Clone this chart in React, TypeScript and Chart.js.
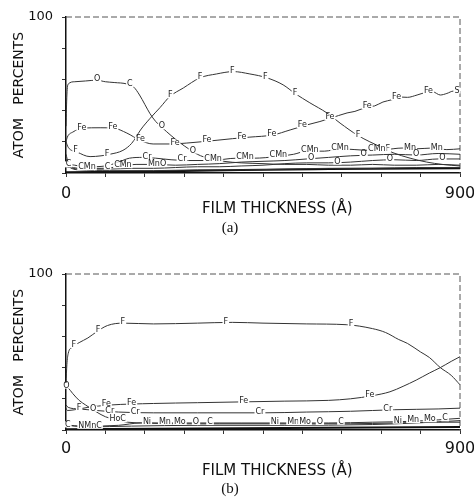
import React, { useEffect, useRef } from 'react';
import { Chart, registerables } from 'chart.js';
Chart.register(...registerables);

type Pt = [number, number];
type Lbl = [number, string];

const FONT = "'DejaVu Sans', sans-serif";
const X_TICK_LABELS = ['0', '900'];
const Y_TICK_LABELS = ['100'];
const X_TITLE = 'FILM THICKNESS (Å)';
const Y_TITLE = 'ATOM   PERCENTS';
const CAPTIONS = ['(a)', '(b)'];

// ---------- panel (a) ----------
const A_O: Pt[] = [[0,30],[2,50],[5,57],[20,58.5],[45,59],[70,59.5],[90,58.5],[110,58],[140,57],[155,55],[168,50],[180,44],[192,38],[205,33],[220,29],[240,24],[260,19.5],[280,15.5],[300,12],[330,9],[360,7.5],[400,6.5],[450,6],[500,5.5],[550,5.5],[600,5],[650,5],[700,5.5],[750,5],[800,5],[850,5.5],[900,5]];
const A_O_LBL: Lbl[] = [[71,'O'],[146,'C'],[219,'O'],[290,'O']];
const A_F: Pt[] = [[0,20],[5,16.5],[25,13.5],[55,10.5],[80,11],[100,12],[130,14.5],[150,19],[160,23],[170,27.5],[192,35],[215,42],[237,49],[268,54.5],[306,61],[344,63.5],[382,65],[420,63.5],[459,61],[496,56.5],[523,51],[557,45],[596,38.5],[626,32],[667,24],[694,20],[724,16],[747,13],[786,9.5],[824,7],[860,5.5],[900,4.5]];
const A_F_LBL: Lbl[] = [[22,'F'],[94,'F'],[238,'F'],[306,'F'],[380,'F'],[455,'F'],[523,'F'],[667,'F'],[735,'F']];
const A_FE: Pt[] = [[0,20],[3,23],[16,26.3],[39,28.8],[78,29],[108,28.8],[139,25.6],[169,21],[199,18.6],[237,18.6],[276,19.2],[345,21],[380,22],[420,23],[473,24.4],[512,27.6],[550,30.8],[580,33],[603,35],[642,38.5],[660,39.5],[688,42.3],[705,43],[724,45.5],[745,47],[763,48.7],[780,48.5],[802,50],[820,51.5],[838,52],[855,50],[870,51],[885,52.5],[900,52]];
const A_FE_LBL: Lbl[] = [[36,'Fe'],[107,'Fe'],[170,'Fe'],[249,'Fe'],[322,'Fe'],[402,'Fe'],[470,'Fe'],[540,'Fe'],[603,'Fe'],[688,'Fe'],[755,'Fe'],[828,'Fe'],[893,'S']];
const A_CR: Pt[] = [[0,12],[5,7],[20,5],[50,4],[90,4.5],[120,7],[145,9.5],[175,10],[205,9.5],[240,8.5],[280,8],[330,8],[390,9.5],[430,9.5],[480,10.5],[520,12],[550,14],[590,14],[627,15.5],[660,15],[694,14.5],[730,15],[768,16],[800,15.5],[836,16],[870,15],[900,15.5]];
const A_CR_LBL: Lbl[] = [[185,'Cr'],[265,'Cr'],[336,'CMn'],[409,'CMn'],[485,'CMn'],[557,'CMn'],[626,'CMn'],[710,'CMn'],[786,'Mn'],[847,'Mn']];
const A_MN: Pt[] = [[0,6],[10,4],[40,3],[80,3],[120,4],[160,5.5],[200,5.5],[250,5],[300,5.5],[350,6],[400,7],[450,7.5],[500,8],[550,9],[600,10],[650,11],[700,11.5],[750,12],[800,11.5],[850,12.5],[900,12]];
const A_MN_LBL: Lbl[] = [[48,'CMn'],[95,'C'],[130,'CMn'],[208,'MnO'],[560,'O'],[680,'O'],[800,'O']];
const A_NI: Pt[] = [[0,4],[30,2.5],[100,2.5],[150,3],[200,3],[250,3.5],[300,4],[350,4],[400,4.5],[450,5],[500,6],[550,6.5],[600,6.5],[650,7],[700,8],[750,8.5],[800,8],[850,9],[900,9]];
const A_NI_LBL: Lbl[] = [[620,'O'],[740,'O'],[860,'O']];
const A_C: Pt[] = [[0,9],[5,5],[30,2],[100,1.5],[200,1.5],[300,2],[400,2],[500,2.5],[600,3],[700,3],[800,3.5],[900,3.5]];
const A_C_LBL: Lbl[] = [[6,'C']];
const A_BASE: Pt[] = [[0,0.5],[200,1],[400,2],[600,2.5],[900,3]];

// ---------- panel (b) ----------
const B_F: Pt[] = [[0,30],[2,42],[5,49],[14,53],[30,56],[50,59],[70,63],[95,67],[130,68.5],[200,68],[300,68.5],[380,69],[450,68.5],[550,68],[640,67.5],[700,65],[730,62.5],[760,58],[780,55.5],[810,50],[830,46.5],[855,40],[880,35],[900,29]];
const B_F_LBL: Lbl[] = [[18,'F'],[73,'F'],[130,'F'],[365,'F'],[651,'F']];
const B_FE: Pt[] = [[0,14],[3,12.5],[20,13],[50,14.5],[100,16],[200,17],[300,17.5],[400,18],[500,18.5],[600,19],[650,20],[700,22],[740,24.5],[770,28],[800,32],[830,36.5],[855,40],[880,44],[900,47]];
const B_FE_LBL: Lbl[] = [[30,'F'],[92,'Fe'],[150,'Fe'],[406,'Fe'],[694,'Fe']];
const B_CR: Pt[] = [[0,16],[5,14.5],[30,13.5],[70,12.5],[120,11.5],[200,11],[300,11],[450,11],[550,11.5],[650,12],[750,13],[850,13.5],[900,14]];
const B_CR_LBL: Lbl[] = [[100,'Cr'],[158,'Cr'],[443,'Cr'],[735,'Cr']];
const B_O: Pt[] = [[0,28],[5,27],[15,23.5],[30,19],[45,16],[70,11.5],[90,8.5],[115,6.5],[140,5],[180,4.5],[250,4],[350,4],[450,4],[550,4],[650,4],[750,4.5],[850,5],[900,5]];
const B_O_LBL: Lbl[] = [[1,'O'],[62,'O'],[118,'HoC']];
const B_NI: Pt[] = [[0,6],[10,3],[50,2.5],[120,3],[170,4.5],[250,4.5],[400,4.5],[500,4.5],[600,4.5],[700,5],[780,5.5],[850,6.5],[900,7.5]];
const B_NI_LBL: Lbl[] = [[185,'Ni'],[226,'Mn'],[260,'Mo'],[297,'O'],[329,'C'],[477,'Ni'],[519,'Mn'],[546,'Mo'],[580,'O'],[628,'C'],[758,'Ni'],[793,'Mn'],[831,'Mo'],[866,'C']];
const B_C: Pt[] = [[0,3],[50,2],[150,2.5],[300,3],[500,3],[700,3.5],[800,4.5],[900,6]];
const B_C_LBL: Lbl[] = [[4,'C'],[55,'NMnC']];
const B_BASE: Pt[] = [[0,0.5],[300,1],[600,1.5],[900,2]];

function interp(pts: Pt[], x: number): number {
  for (let i = 1; i < pts.length; i++) {
    if (x <= pts[i][0]) {
      const [x0, y0] = pts[i - 1];
      const [x1, y1] = pts[i];
      return y0 + ((y1 - y0) * (x - x0)) / (x1 - x0);
    }
  }
  return pts[pts.length - 1][1];
}

const series = (pts: Pt[], labels: Lbl[], width = 1, color = '#333') => ({
  data: pts.map(([x, y]) => ({ x, y })),
  src: pts,
  curveLabels: labels,
  borderColor: color,
  borderWidth: width,
  pointRadius: 0,
  fill: false,
  cubicInterpolationMode: 'monotone',
});

const framePlugin = {
  id: 'frame',
  beforeDatasetsDraw(chart: any) {
    const { ctx, chartArea: a } = chart;
    ctx.save();
    ctx.strokeStyle = '#555';
    ctx.lineWidth = 1;
    ctx.setLineDash([6, 3]);
    ctx.beginPath();
    ctx.moveTo(a.left, a.top);
    ctx.lineTo(a.right, a.top);
    ctx.lineTo(a.right, a.bottom);
    ctx.stroke();
    ctx.restore();
  },
};

const labelPlugin = {
  id: 'curveLabels',
  afterDatasetsDraw(chart: any) {
    const { ctx } = chart;
    const xs = chart.scales.x;
    const ys = chart.scales.y;
    ctx.save();
    ctx.font = `8px ${FONT}`;
    ctx.textAlign = 'center';
    ctx.textBaseline = 'middle';
    chart.data.datasets.forEach((ds: any) => {
      (ds.curveLabels || []).forEach(([x, t]: Lbl) => {
        const px = xs.getPixelForValue(x);
        const py = ys.getPixelForValue(interp(ds.src, x)) - 1;
        const w = ctx.measureText(t).width;
        ctx.fillStyle = '#fff';
        ctx.fillRect(px - w / 2 - 1, py - 3, w + 2, 6);
        ctx.fillStyle = '#222';
        ctx.fillText(t, px, py);
      });
    });
    ctx.restore();
  },
};

function makeConfig(datasets: any[], caption: string, p: { top: number; capPad: number; xTitlePad: number; xTickPad: number; xH: number }) {
  return {
    type: 'line' as const,
    data: { datasets },
    plugins: [framePlugin, labelPlugin],
    options: {
      animation: false,
      responsive: false,
      maintainAspectRatio: false,
      layout: { padding: { top: p.top, right: 14, left: 0, bottom: 0 } },
      plugins: {
        legend: { display: false },
        tooltip: { enabled: false },
        title: {
          display: true,
          text: caption,
          position: 'bottom',
          color: '#111',
          font: { family: "'Liberation Serif', serif", size: 15, weight: 'normal', lineHeight: 1 },
          padding: { top: 0, bottom: p.capPad },
        },
      },
      scales: {
        x: {
          type: 'linear',
          min: 0,
          max: 900,
          position: 'bottom',
          ticks: {
            stepSize: 90,
            autoSkip: false,
            maxRotation: 0,
            color: '#111',
            padding: p.xTickPad,
            font: { family: FONT, size: 16, lineHeight: 1.2 },
            callback: (v: number) => (v === 0 ? X_TICK_LABELS[0] : v === 900 ? X_TICK_LABELS[1] : ''),
          },
          grid: { drawOnChartArea: false, drawTicks: true, tickLength: 4, color: '#333' },
          border: { color: '#111', width: 1.5 },
          title: {
            display: true,
            text: '      ' + X_TITLE,
            color: '#111',
            font: { family: FONT, size: 15, lineHeight: 1.2 },
            padding: { top: 0, bottom: p.xTitlePad },
          },
          afterFit: (s: any) => {
            s.height = p.xH;
            s.paddingLeft = 0;
            s.paddingRight = 0;
          },
        },
        y: {
          type: 'linear',
          min: 0,
          max: 100,
          position: 'left',
          ticks: {
            stepSize: 20,
            color: '#111',
            padding: 9,
            font: { family: FONT, size: 13 },
            callback: (v: number) => (v === 100 ? Y_TICK_LABELS[0] : ''),
          },
          grid: { drawOnChartArea: false, drawTicks: true, tickLength: 4, color: '#333' },
          border: { color: '#111', width: 1.5 },
          title: {
            display: true,
            text: Y_TITLE,
            color: '#111',
            font: { family: FONT, size: 14, lineHeight: 1.2 },
            padding: { top: 10.6, bottom: 0 },
          },
          afterFit: (s: any) => {
            s.width = 66;
            s.paddingTop = 0;
            s.paddingBottom = 0;
          },
        },
      },
    },
  };
}

export default function App() {
  const refA = useRef<HTMLCanvasElement>(null);
  const refB = useRef<HTMLCanvasElement>(null);

  useEffect(() => {
    const dsA = [
      series(A_O, A_O_LBL),
      series(A_F, A_F_LBL),
      series(A_FE, A_FE_LBL),
      series(A_CR, A_CR_LBL),
      series(A_MN, A_MN_LBL),
      series(A_NI, A_NI_LBL),
      series(A_C, A_C_LBL),
      series(A_BASE, [], 2, '#111'),
    ];
    const dsB = [
      series(B_F, B_F_LBL),
      series(B_FE, B_FE_LBL),
      series(B_CR, B_CR_LBL),
      series(B_O, B_O_LBL),
      series(B_NI, B_NI_LBL),
      series(B_C, B_C_LBL),
      series(B_BASE, [], 2, '#111'),
    ];
    const a = new Chart(refA.current as HTMLCanvasElement, makeConfig(dsA, CAPTIONS[0], { top: 17, capPad: 12.5, xTitlePad: 2.5, xTickPad: 7.4, xH: 47.5 }) as any);
    const b = new Chart(refB.current as HTMLCanvasElement, makeConfig(dsB, CAPTIONS[1], { top: 26, capPad: 0.5, xTitlePad: 1.5, xTickPad: 5.4, xH: 51.5 }) as any);
    return () => {
      a.destroy();
      b.destroy();
    };
  }, []);

  return (
    <div style={{ position: 'absolute', left: 0, top: 0, width: 474, height: 497, background: '#fff' }}>
      <canvas ref={refA} width={474} height={248} style={{ display: 'block', width: 474, height: 248 }} />
      <canvas ref={refB} width={474} height={249} style={{ display: 'block', width: 474, height: 249 }} />
    </div>
  );
}
